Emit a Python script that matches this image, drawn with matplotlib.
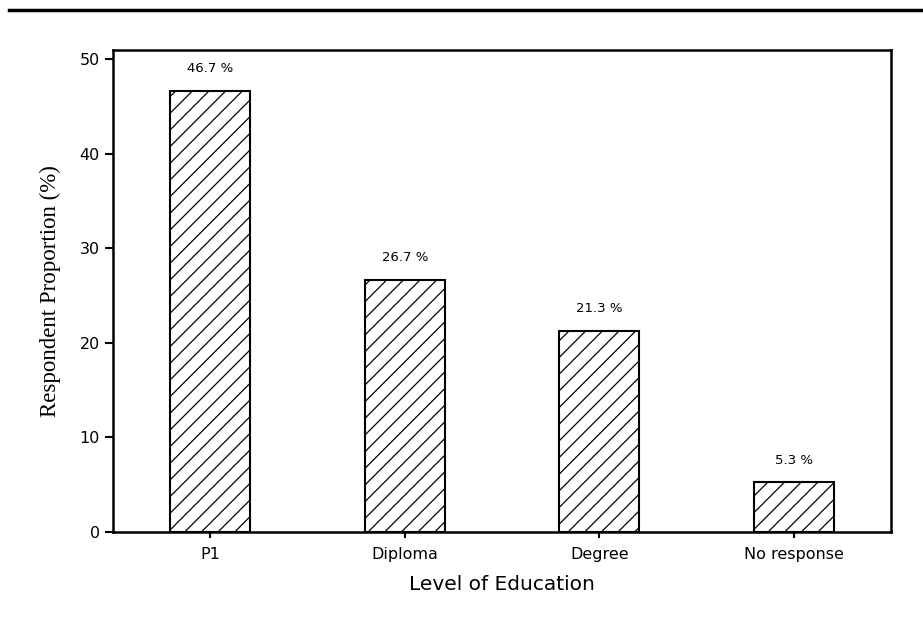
import numpy as np
import matplotlib
matplotlib.use("Agg")
import matplotlib.pyplot as plt
from matplotlib.lines import Line2D

categories = ["P1", "Diploma", "Degree", "No response"]
values = [46.7, 26.7, 21.3, 5.3]
labels = ["46.7 %", "26.7 %", "21.3 %", "5.3 %"]

plt.rcParams['hatch.linewidth'] = 0.9

fig = plt.figure(figsize=(9.23, 6.19), dpi=100)
ax = fig.add_axes([113/923, 1 - 532/619, (891-113)/923, (532-50)/619])

x = np.arange(len(categories))
bars = ax.bar(x, values, width=0.41, color="white", edgecolor="black",
              linewidth=1.5, hatch="//")
for xi, v, lab in zip(x, values, labels):
    ax.annotate(lab, (xi, v), xytext=(0, 11), textcoords="offset points",
                ha="center", va="bottom", fontsize=9.5, family="DejaVu Sans")

ax.set_xlim(-0.5, 3.5)
ax.set_ylim(0, 51)
ax.set_yticks([0, 10, 20, 30, 40, 50])
ax.set_xticks(x)
ax.set_xticklabels(categories, fontsize=11.5)
ax.tick_params(axis="y", labelsize=11.5, length=6, width=1.5, direction="out")
ax.tick_params(axis="x", length=4, width=1.5, direction="out", pad=7)
for s in ax.spines.values():
    s.set_linewidth(1.8)

ax.set_xlabel("Level of Education", fontsize=14.5, family="DejaVu Sans", labelpad=9)
ax.set_ylabel("Respondent Proportion (%)", fontsize=16.5, family="Liberation Serif", labelpad=13)

fig.add_artist(Line2D([9/923, 1], [1 - 10/619, 1 - 10/619], color="black", linewidth=2.5))

fig.savefig("out.png", dpi=100)
